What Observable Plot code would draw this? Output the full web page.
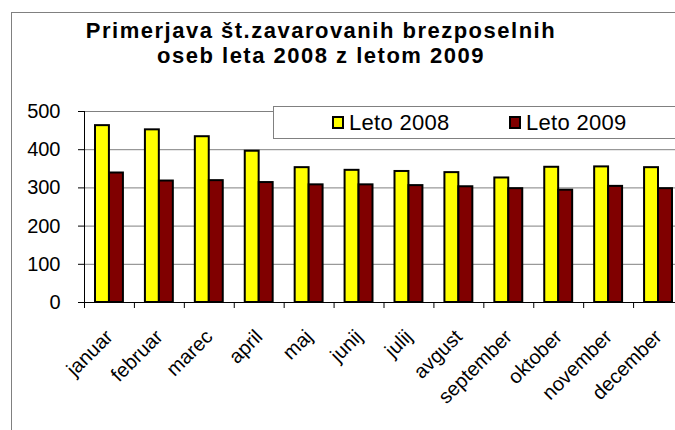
<!DOCTYPE html>
<html>
<head>
<meta charset="utf-8">
<script src="https://cdn.jsdelivr.net/npm/d3@7"></script>
<script src="https://cdn.jsdelivr.net/npm/@observablehq/plot@0.6"></script>
<style>
  html, body { margin: 0; padding: 0; background: #fff; }
  body { width: 675px; height: 430px; position: relative; overflow: hidden; font-family: "Liberation Sans", Arial, sans-serif; color: #000; }
  #border { position: absolute; left: 11px; top: 12px; width: 700px; height: 500px; border-left: 1px solid #808080; border-top: 1px solid #808080; }
  #title { position: absolute; left: 0; width: 642px; top: 18px; text-align: center; font-weight: bold; font-size: 22px; line-height: 25px; letter-spacing: 1.5px; }
  #chart { position: absolute; left: 0; top: 90px; }
  #legend { position: absolute; left: 273px; top: 106px; width: 450px; height: 31px; border: 1px solid #808080; background: #fff; z-index: 2; }
  .item { position: absolute; top: 0; height: 31px; display: flex; align-items: center; font-size: 22px; letter-spacing: 0.3px; }
  .sw { width: 8px; height: 9px; border: 2px solid #000; margin-right: 5px; }
</style>
</head>
<body>
<div id="border"></div>
<div id="title">Primerjava št.zavarovanih brezposelnih<br>oseb leta 2008 z letom 2009</div>
<div id="chart"></div>
<div id="legend"></div>
<script>
const months = ["januar","februar","marec","april","maj","junij","julij","avgust","september","oktober","november","december"];
const values2008 = [463, 452, 434, 396, 353, 346, 343, 340, 326, 354, 355, 353];
const values2009 = [339, 318, 319, 314, 308, 308, 306, 303, 298, 294, 304, 298];
const seriesNames = ["Leto 2008", "Leto 2009"];
const seriesColors = ["#FFFF00", "#800000"];
const yTicks = [0, 100, 200, 300, 400, 500];

const d2008 = months.map((m, i) => ({month: m, value: values2008[i]}));
const d2009 = months.map((m, i) => ({month: m, value: values2009[i]}));

const W = 675, H = 340, mL = 84, mR = -8, mT = 21, mB = 128;
const step = (W - mL - mR) / months.length;

const chart = Plot.plot({
  width: W,
  height: H,
  marginLeft: mL,
  marginRight: mR,
  marginTop: mT,
  marginBottom: mB,
  style: {fontFamily: "Liberation Sans, Arial, sans-serif", color: "#000", background: "transparent", overflow: "visible"},
  x: {domain: months, padding: 0, round: false, axis: null, label: null},
  y: {domain: [0, 500], axis: null, label: null},
  marks: [
    Plot.gridY(yTicks, {stroke: "#808080", strokeOpacity: 1}),
    Plot.barY(d2008, {x: "month", y: "value", fill: seriesColors[0], stroke: "#000", strokeWidth: 2, insetLeft: 11, insetRight: 25}),
    Plot.barY(d2009, {x: "month", y: "value", fill: seriesColors[1], stroke: "#000", strokeWidth: 2, insetLeft: 25, insetRight: 11}),
    Plot.ruleY([0], {stroke: "#000"}),
    Plot.frame({anchor: "left", stroke: "#000"}),
    Plot.axisY({ticks: yTicks, tickSize: 6, tickPadding: 18, fontSize: 20, label: null, tickFormat: d => String(d)}),
    Plot.axisX({tickSize: 6, tickFormat: () => "", label: null, dx: -step / 2}),
    Plot.axisX({tickSize: 0, tickRotate: -45, tickPadding: 31, fontSize: 20, label: null, dx: 0})
  ]
});
document.getElementById("chart").appendChild(chart);

const legend = document.getElementById("legend");
const legendLeft = [58, 235];
seriesNames.forEach((name, i) => {
  const item = document.createElement("div");
  item.className = "item";
  item.style.left = legendLeft[i] + "px";
  const sw = document.createElement("div");
  sw.className = "sw";
  sw.style.background = seriesColors[i];
  item.appendChild(sw);
  item.appendChild(document.createTextNode(name));
  legend.appendChild(item);
});
</script>
</body>
</html>
